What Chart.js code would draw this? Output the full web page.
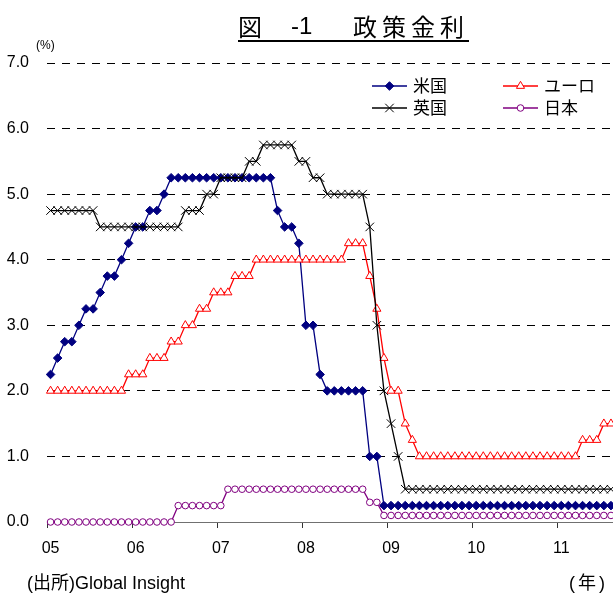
<!DOCTYPE html>
<html>
<head>
<meta charset="utf-8">
<script src="https://cdn.jsdelivr.net/npm/chart.js@4.4.1/dist/chart.umd.min.js"></script>
<style>
  html, body { margin: 0; padding: 0; background: #fff; overflow: hidden; }
  #wrap { position: relative; width: 622px; height: 594px; }
</style>
</head>
<body>
<div id="wrap"><canvas id="chart" width="622" height="594"></canvas></div>
<script>
// Policy rates, month-end, Jan 2005 – Aug 2011 (%)
const yearLabels = ['05', '06', '07', '08', '09', '10', '11'];
const monthsShown = 80;

const usRate = [
  2.25, 2.50, 2.75, 2.75, 3.00, 3.25, 3.25, 3.50, 3.75, 3.75, 4.00, 4.25,
  4.50, 4.50, 4.75, 4.75, 5.00, 5.25, 5.25, 5.25, 5.25, 5.25, 5.25, 5.25,
  5.25, 5.25, 5.25, 5.25, 5.25, 5.25, 5.25, 5.25, 4.75, 4.50, 4.50, 4.25,
  3.00, 3.00, 2.25, 2.00, 2.00, 2.00, 2.00, 2.00, 2.00, 1.00, 1.00, 0.25,
  0.25, 0.25, 0.25, 0.25, 0.25, 0.25, 0.25, 0.25, 0.25, 0.25, 0.25, 0.25,
  0.25, 0.25, 0.25, 0.25, 0.25, 0.25, 0.25, 0.25, 0.25, 0.25, 0.25, 0.25,
  0.25, 0.25, 0.25, 0.25, 0.25, 0.25, 0.25, 0.25
];

const euroRate = [
  2.00, 2.00, 2.00, 2.00, 2.00, 2.00, 2.00, 2.00, 2.00, 2.00, 2.00, 2.25,
  2.25, 2.25, 2.50, 2.50, 2.50, 2.75, 2.75, 3.00, 3.00, 3.25, 3.25, 3.50,
  3.50, 3.50, 3.75, 3.75, 3.75, 4.00, 4.00, 4.00, 4.00, 4.00, 4.00, 4.00,
  4.00, 4.00, 4.00, 4.00, 4.00, 4.00, 4.25, 4.25, 4.25, 3.75, 3.25, 2.50,
  2.00, 2.00, 1.50, 1.25, 1.00, 1.00, 1.00, 1.00, 1.00, 1.00, 1.00, 1.00,
  1.00, 1.00, 1.00, 1.00, 1.00, 1.00, 1.00, 1.00, 1.00, 1.00, 1.00, 1.00,
  1.00, 1.00, 1.00, 1.25, 1.25, 1.25, 1.50, 1.50
];

const ukRate = [
  4.75, 4.75, 4.75, 4.75, 4.75, 4.75, 4.75, 4.50, 4.50, 4.50, 4.50, 4.50,
  4.50, 4.50, 4.50, 4.50, 4.50, 4.50, 4.50, 4.75, 4.75, 4.75, 5.00, 5.00,
  5.25, 5.25, 5.25, 5.25, 5.50, 5.50, 5.75, 5.75, 5.75, 5.75, 5.75, 5.50,
  5.50, 5.25, 5.25, 5.00, 5.00, 5.00, 5.00, 5.00, 5.00, 4.50, 3.00, 2.00,
  1.50, 1.00, 0.50, 0.50, 0.50, 0.50, 0.50, 0.50, 0.50, 0.50, 0.50, 0.50,
  0.50, 0.50, 0.50, 0.50, 0.50, 0.50, 0.50, 0.50, 0.50, 0.50, 0.50, 0.50,
  0.50, 0.50, 0.50, 0.50, 0.50, 0.50, 0.50, 0.50
];

const japanRate = [
  0.00, 0.00, 0.00, 0.00, 0.00, 0.00, 0.00, 0.00, 0.00, 0.00, 0.00, 0.00,
  0.00, 0.00, 0.00, 0.00, 0.00, 0.00, 0.25, 0.25, 0.25, 0.25, 0.25, 0.25,
  0.25, 0.50, 0.50, 0.50, 0.50, 0.50, 0.50, 0.50, 0.50, 0.50, 0.50, 0.50,
  0.50, 0.50, 0.50, 0.50, 0.50, 0.50, 0.50, 0.50, 0.50, 0.30, 0.30, 0.10,
  0.10, 0.10, 0.10, 0.10, 0.10, 0.10, 0.10, 0.10, 0.10, 0.10, 0.10, 0.10,
  0.10, 0.10, 0.10, 0.10, 0.10, 0.10, 0.10, 0.10, 0.10, 0.10, 0.10, 0.10,
  0.10, 0.10, 0.10, 0.10, 0.10, 0.10, 0.10, 0.10
];

const yMin = 0, yMax = 7, yStep = 1;

// one category per month, "05/1" ... "11/8"
const months = [];
yearLabels.forEach(y => { for (let m = 1; m <= 12; m++) months.push(y + '/' + m); });
months.length = monthsShown;

const isJanuary = i => i % 12 === 0;

const CJK = '"Noto Sans CJK JP", "Noto Sans", sans-serif';
const LATIN = '"Liberation Sans", Arial, sans-serif';

// title, unit and source notes
const notesPlugin = {
  id: 'notes',
  afterDraw(chart) {
    const ctx = chart.ctx;
    ctx.save();
    ctx.fillStyle = '#000';
    ctx.textBaseline = 'middle';
    ctx.textAlign = 'left';
    ctx.font = '24px ' + CJK;
    ctx.fillText('図', 238, 27);
    ctx.font = '24px ' + LATIN;
    ctx.fillText('-1', 291, 27);
    ctx.font = '24px ' + CJK;
    ['政', '策', '金', '利'].forEach((ch, k) => ctx.fillText(ch, 353 + k * 29, 27));
    ctx.fillRect(238, 40, 231, 2);

    ctx.font = '12px ' + LATIN;
    ctx.fillText('(%)', 36, 46);

    ctx.font = '18px ' + LATIN + ', ' + CJK;
    ctx.fillText('(出所)Global Insight', 27, 584);
    ctx.textAlign = 'right';
    ctx.letterSpacing = '3px';
    ctx.fillText('(年)', 608, 584);
    ctx.restore();
  }
};

// two-column legend: line with marker, then label
const legendPlugin = {
  id: 'pairLegend',
  afterDraw(chart) {
    const ctx = chart.ctx;
    const cols = [372, 503];
    const rows = [86, 108];
    const lineLen = 35;
    ctx.save();
    chart.data.datasets.forEach((ds, i) => {
      const x = cols[i % 2];
      const y = rows[Math.floor(i / 2)];
      ctx.strokeStyle = ds.borderColor;
      ctx.lineWidth = ds.borderWidth;
      ctx.beginPath();
      ctx.moveTo(x, y);
      ctx.lineTo(x + lineLen, y);
      ctx.stroke();
      ctx.fillStyle = ds.pointBackgroundColor;
      ctx.strokeStyle = ds.pointBorderColor;
      ctx.lineWidth = ds.pointBorderWidth;
      Chart.helpers.drawPoint(ctx, {
        pointStyle: ds.pointStyle,
        radius: ds.pointRadius,
        rotation: 0,
        borderWidth: ds.pointBorderWidth
      }, x + lineLen / 2, y);
      ctx.fillStyle = '#000';
      ctx.font = '17px ' + CJK;
      ctx.textBaseline = 'middle';
      ctx.textAlign = 'left';
      ctx.fillText(ds.label, x + lineLen + 6, y);
    });
    ctx.restore();
  }
};

function series(label, data, color, style, radius, fill, order) {
  return {
    label, data, order,
    borderColor: color,
    borderWidth: 1.3,
    pointStyle: style,
    pointRadius: radius,
    pointHoverRadius: radius,
    pointBackgroundColor: fill,
    pointBorderColor: color,
    pointBorderWidth: 1,
    tension: 0,
    clip: false
  };
}

new Chart(document.getElementById('chart'), {
  type: 'line',
  data: {
    labels: months,
    datasets: [
      series('米国', usRate, '#000080', 'rectRot', 4.3, '#000080', 4),
      series('ユーロ', euroRate, '#ff0000', 'triangle', 4.7, '#ffffff', 3),
      series('英国', ukRate, '#000000', 'crossRot', 6, '#000000', 2),
      series('日本', japanRate, '#800080', 'circle', 3.3, '#ffffff', 1)
    ]
  },
  options: {
    responsive: false,
    animation: false,
    devicePixelRatio: 1,
    layout: { padding: { top: 63, right: 0, bottom: 0, left: 0 } },
    plugins: {
      legend: { display: false },
      title: { display: false },
      tooltip: { enabled: false }
    },
    scales: {
      x: {
        type: 'category',
        offset: true,
        grid: {
          display: true,
          offset: true,
          drawOnChartArea: false,
          drawTicks: true,
          tickLength: 6,
          lineWidth: 1,
          color: ctx => isJanuary(ctx.index) ? '#333' : 'rgba(0,0,0,0)'
        },
        border: { display: true, color: '#707070', width: 1 },
        ticks: {
          autoSkip: false,
          maxRotation: 0,
          minRotation: 0,
          padding: 11,
          color: '#000',
          font: { family: LATIN, size: 16 },
          callback: (v, i) => isJanuary(i) ? yearLabels[i / 12] : ''
        },
        afterFit: s => { s.height = 72; }
      },
      y: {
        min: yMin,
        max: yMax,
        ticks: {
          stepSize: yStep,
          padding: 18,
          color: '#000',
          font: { family: LATIN, size: 16 },
          callback: v => Number(v).toFixed(1)
        },
        grid: {
          drawTicks: false,
          lineWidth: 1,
          color: ctx => ctx.tick && ctx.tick.value === 0 ? 'rgba(0,0,0,0)' : '#000'
        },
        border: { display: false, dash: [8, 7] },
        afterFit: s => { s.width = 47; }
      }
    }
  },
  plugins: [notesPlugin, legendPlugin]
});
</script>
</body>
</html>
